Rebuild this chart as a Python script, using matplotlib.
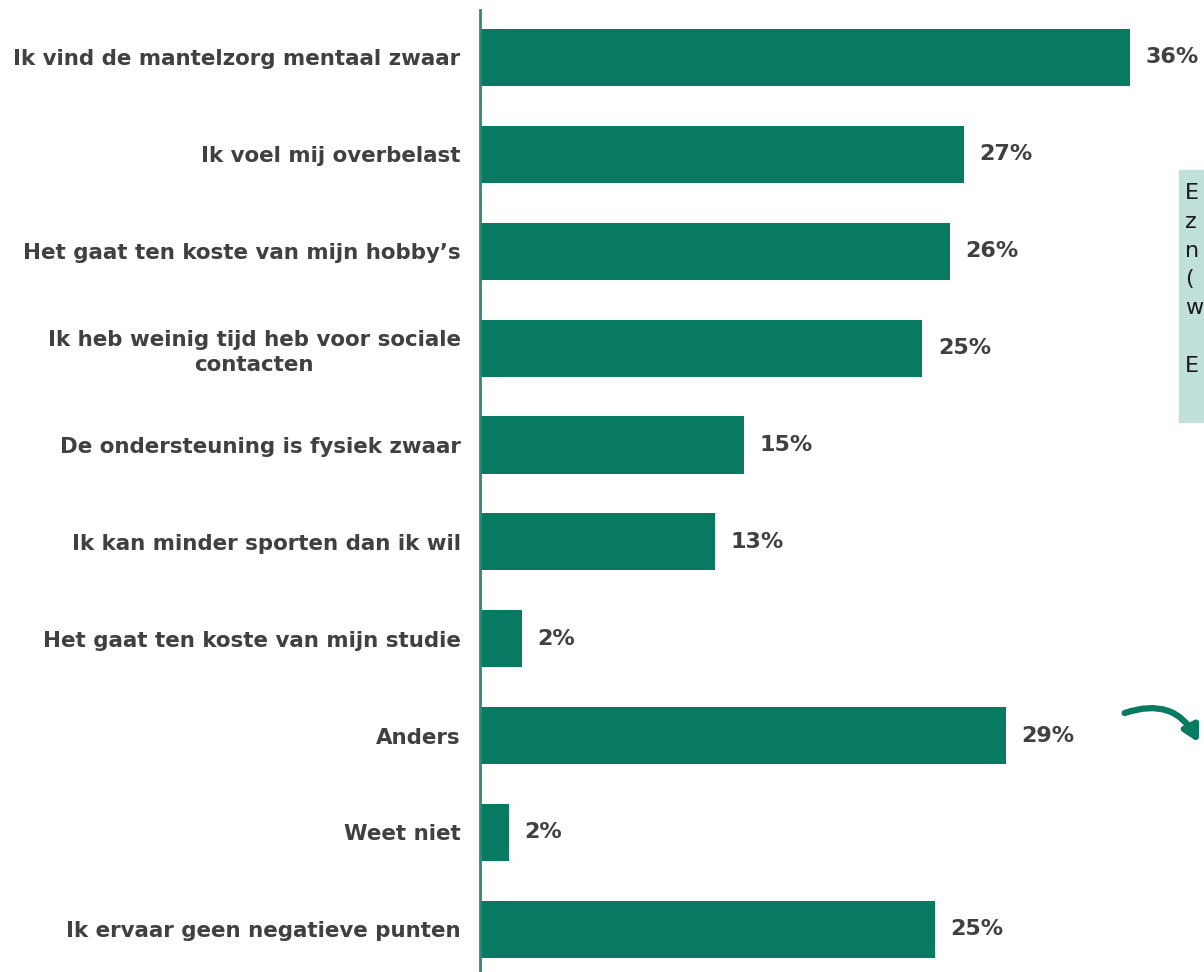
import matplotlib.pyplot as plt
from matplotlib.patches import FancyArrowPatch, Rectangle

categories = [
    "Ik vind de mantelzorg mentaal zwaar",
    "Ik voel mij overbelast",
    "Het gaat ten koste van mijn hobby\u2019s",
    "Ik heb weinig tijd heb voor sociale\ncontacten",
    "De ondersteuning is fysiek zwaar",
    "Ik kan minder sporten dan ik wil",
    "Het gaat ten koste van mijn studie",
    "Anders",
    "Weet niet",
    "Ik ervaar geen negatieve punten",
]
values = [36.0, 26.8, 26.0, 24.5, 14.6, 13.0, 2.3, 29.1, 1.6, 25.2]
value_labels = ["36%", "27%", "26%", "25%", "15%", "13%", "2%", "29%", "2%", "25%"]

bar_color = "#077a61"
text_color = "#404040"

fig = plt.figure(figsize=(12.04, 9.72), dpi=100)
ax = fig.add_axes([480 / 1204, 0, 724 / 1204, 962 / 972])

ypos = list(range(len(categories)))
ax.barh(ypos, values, height=0.59, color=bar_color)
ax.set_xlim(0, 724 / 18.06)
ax.set_ylim(9.44, -0.49)

for y, v, lab in zip(ypos, values, value_labels):
    ax.text(v + 0.85, y, lab, va="center", ha="left", fontsize=16,
            fontweight="bold", color=text_color)

ax.set_yticks(ypos)
ax.set_yticklabels(categories, fontsize=15.4, fontweight="bold", color=text_color,
                   multialignment="center", linespacing=1.3)
ax.tick_params(axis="y", length=0, pad=14)
ax.set_xticks([])
for s in ["top", "right", "bottom"]:
    ax.spines[s].set_visible(False)
ax.spines["left"].set_color("#2f8a73")
ax.spines["left"].set_linewidth(2)

# side note box, clipped by the figure edge
fig.patches.append(Rectangle((1179 / 1204, 1 - 422 / 972), 0.05, 252 / 972,
                             transform=fig.transFigure, color="#c2e0da",
                             zorder=0))
fig.text(1185 / 1204, 1 - 183 / 972, "E\nz\nn\n(\nw\n\nE", fontsize=16,
         color="#1a1a1a", va="top", ha="left", linespacing=1.55)

# curved arrow
arrow = FancyArrowPatch((1122 / 1204, 1 - 714 / 972), (1200 / 1204, 1 - 745 / 972),
                        transform=fig.transFigure,
                        connectionstyle="arc3,rad=-0.45",
                        arrowstyle="-|>,head_length=9,head_width=5",
                        color=bar_color, lw=4.5)
fig.patches.append(arrow)

fig.savefig("out.png", dpi=100)
